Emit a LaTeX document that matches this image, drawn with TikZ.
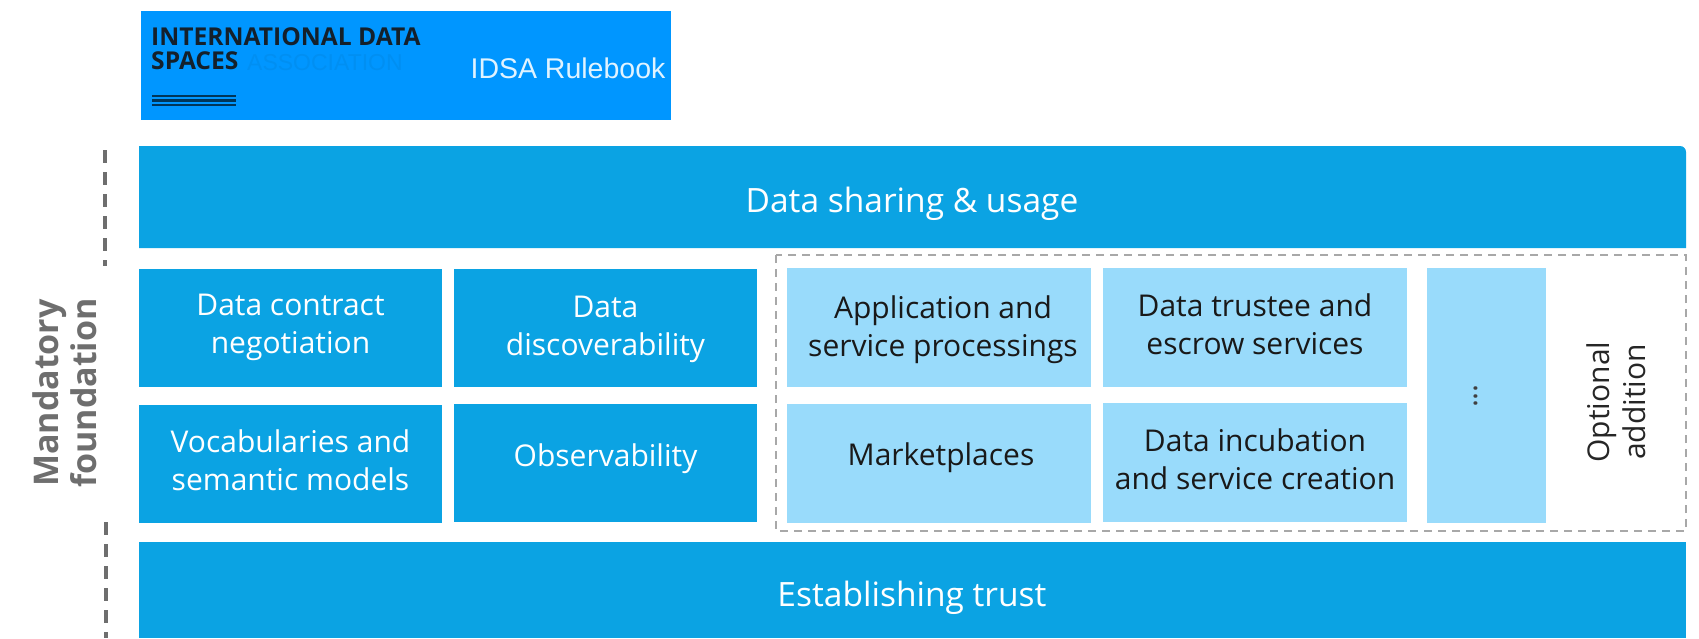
\documentclass[tikz,border=0pt]{standalone}
\usepackage{fontspec}
\setmainfont{Open Sans}
\newfontfamily\headfont{Liberation Sans}
\definecolor{idsablue}{HTML}{0096FF}
\definecolor{idsashade}{HTML}{008FF2}
\definecolor{solidblue}{HTML}{0BA3E3}
\definecolor{paleblue}{HTML}{99DBFB}
\definecolor{sidegray}{HTML}{6E6E6E}
\definecolor{logoink}{HTML}{14202B}
\tikzset{
    solidbox/.style={fill=solidblue, inner sep=0pt, minimum width=303pt, minimum height=118pt},
    palebox/.style={fill=paleblue, inner sep=0pt, minimum width=304pt, minimum height=119pt},
    boxtext/.style={align=center, inner sep=0pt, font=\fontsize{30}{38}\selectfont},
    sideline/.style={sidegray, line width=3.5pt, dash pattern=on 13pt off 9pt},
    logotext/.style={anchor=west, inner sep=0pt, font=\bfseries\fontsize{24.6}{24.6}\selectfont}
}
\begin{document}
\begin{tikzpicture}[x=1pt, y=-1pt]
    \useasboundingbox (0,0) rectangle (1699,638);
    % logo strip
    \fill[idsablue] (141,11) rectangle (671,120);
    \node[logotext, logoink] (logoa) at (151,37) {INTERNATIONAL DATA};
    \node[logotext, logoink] (logob) at (151,61) {SPACES};
    \node[logotext, idsashade, font=\headfont\fontsize{23}{23}\selectfont] (logoc) at (247,63) {ASSOCIATION};
    \foreach \y in {96,100.5,105} {
        \draw[idsablue!35!black, line width=2.2pt] (152,\y) -- (236,\y);
    }
    \node[text=white!88!idsablue, font=\headfont\fontsize{28.5}{28.5}\selectfont] (rulebook) at (568,68) {IDSA Rulebook};
    % wide bars
    \fill[solidblue] (139,146) [rounded corners=6pt] -- (1686,146) [sharp corners] -- (1686,248) -- (139,248) -- cycle;
    \node[text=white, font=\fontsize{33.5}{38}\selectfont] (sharing) at (912,204) {Data sharing \& usage};
    \fill[solidblue] (139,542) rectangle (1686,638);
    \node[text=white, font=\fontsize{33.5}{38}\selectfont] (trust) at (912,598) {Establishing trust};
    % optional frame
    \draw[sidegray!60, line width=2.2pt, dash pattern=on 8pt off 6pt] (776,255) rectangle (1686,531);
    % mandatory boxes
    \foreach \name/\x/\y/\dx/\dy/\txt in {
        contract/290.5/328/0/-1/{Data contract\\negotiation},
        discover/605.5/328/0/1/{Data\\discoverability},
        vocab/290.5/463.5/0/-3/{Vocabularies and\\semantic models},
        observe/605.5/462.5/0/-4/{Observability}} {
        \node[solidbox] (\name) at (\x,\y) {};
        \node[boxtext, text=white] (\name text) at ([xshift=\dx pt, yshift=-\dy pt]\name.center) {\txt};
    }
    % optional boxes
    \foreach \name/\x/\y/\dx/\dy/\txt in {
        apps/939/327/4/3/{Application and\\service processings},
        trustee/1255/327/0/-3/{Data trustee and\\escrow services},
        market/939/463/2/-5/{Marketplaces},
        incubate/1255/462.5/0/-3/{Data incubation\\and service creation}} {
        \node[palebox] (\name) at (\x,\y) {};
        \node[boxtext, text=black!90] (\name text) at ([xshift=\dx pt, yshift=-\dy pt]\name.center) {\txt};
    }
    \node[palebox, minimum width=119pt, minimum height=255pt] (more) at (1486.5,395.5) {};
    \node[rotate=90, text=black!75, font=\fontsize{30}{30}\selectfont] (dots) at (1476,396) {...};
    \node[rotate=90, align=center, text=black!85, font=\fontsize{30}{36}\selectfont] (optional) at (1616,402) {Optional\\addition};
    % side label
    \node[rotate=90, align=center, text=sidegray, font=\bfseries\fontsize{34}{38}\selectfont] (mandatory) at (65,393) {Mandatory\\foundation};
    \coordinate (upa) at (105,150);
    \coordinate (upb) at (105,266);
    \coordinate (lowa) at (106,522);
    \coordinate (lowb) at (106,638);
    \draw[sideline] (upa) -- (upb);
    \draw[sideline] (lowa) -- (lowb);
\end{tikzpicture}
\end{document}
